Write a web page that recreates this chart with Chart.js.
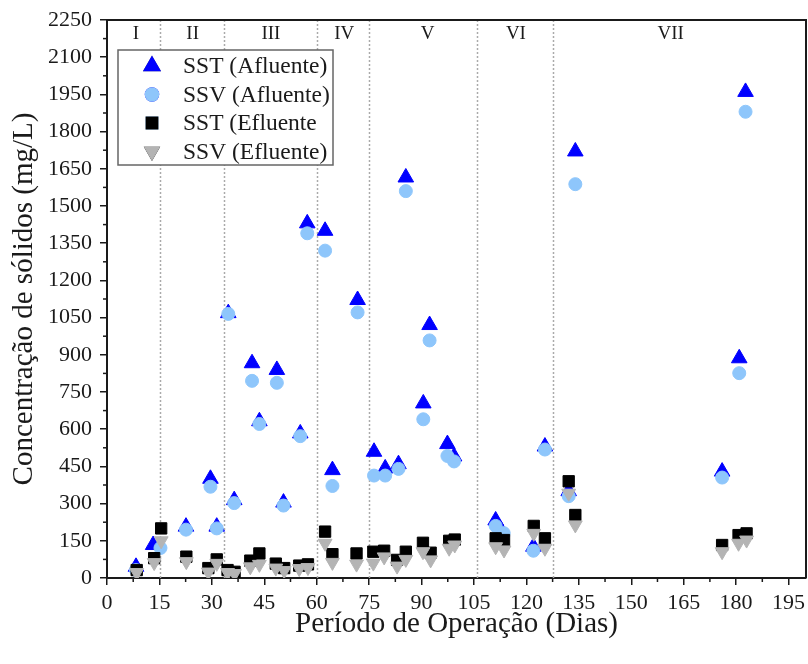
<!DOCTYPE html>
<html><head><meta charset="utf-8">
<script src="https://cdn.jsdelivr.net/npm/chart.js@4"></script>
<style>html,body{margin:0;padding:0;background:#fff;}#wrap{width:808px;height:664px;position:relative;}</style>
</head><body><div id="wrap"><canvas id="c" width="808" height="664"></canvas></div>
<script>
// ---- data ----
const sstAflDays = [8.3, 13.2, 22.6, 29.6, 31.4, 34.7, 36.4, 41.5, 43.6, 48.6, 50.5, 55.3, 57.3, 62.4, 64.5, 71.7, 76.4, 79.6, 83.4, 85.5, 90.5, 92.3, 97.4, 99.3, 111.2, 113, 122, 125.3, 132.1, 134, 176, 180.9, 182.7];
const sstAfl     = [45, 133, 207, 400, 207, 1068, 314, 866, 632, 839, 304, 583, 1430, 1400, 435, 1121, 509, 442, 459, 1615, 704, 1020, 540, 490, 232, 187, 126, 530, 350, 1720, 429, 886, 1960];
const ssvAflDays = [8.3, 15.3, 22.6, 29.6, 31.4, 34.7, 36.4, 41.5, 43.6, 48.6, 50.5, 55.3, 57.3, 62.4, 64.5, 71.7, 76.4, 79.6, 83.4, 85.5, 90.5, 92.3, 97.4, 99.3, 111.2, 113.5, 122, 125.3, 132.1, 134, 176, 180.9, 182.7];
const ssvAfl     = [32, 121, 195, 368, 200, 1065, 302, 795, 621, 787, 292, 572, 1390, 1320, 371, 1071, 413, 413, 440, 1560, 640, 958, 492, 470, 210, 181, 110, 518, 330, 1588, 405, 826, 1880];
const effDays    = [8.5, 13.5, 15.5, 22.7, 29, 31.4, 34.5, 36.5, 41, 43.6, 48.3, 50.7, 55, 57.5, 62.4, 64.5, 71.4, 76.2, 79.3, 83, 85.5, 90.4, 92.6, 97.9, 99.5, 111.2, 113.6, 122.1, 125.3, 132.1, 134, 176, 180.7, 183];
const sstEfl     = [32, 80, 200, 86, 40, 75, 32, 25, 70, 99, 58, 40, 50, 55, 187, 96, 99, 106, 110, 73, 106, 142, 102, 150, 155, 160, 153, 210, 160, 390, 254, 133, 173, 180];
const ssvEfl     = [22, 62, 150, 66, 24, 59, 22, 18, 45, 55, 40, 30, 38, 42, 140, 63, 56, 60, 85, 48, 75, 106, 73, 120, 133, 126, 113, 180, 120, 342, 214, 106, 140, 153];
const seriesNames = ['SST (Afluente)', 'SSV (Afluente)', 'SST (Efluente', 'SSV (Efluente)'];
const phaseBounds = [15.3, 33.5, 60, 75, 106, 127.5];
const phaseNames  = ['I', 'II', 'III', 'IV', 'V', 'VI', 'VII'];
const phaseLabelDays = [8.3, 24.5, 46.9, 67.9, 91.7, 117, 161.3];
const xTicks = [0, 15, 30, 45, 60, 75, 90, 105, 120, 135, 150, 165, 180, 195];
const yTicks = [0, 150, 300, 450, 600, 750, 900, 1050, 1200, 1350, 1500, 1650, 1800, 1950, 2100, 2250];

const zip = (xs, ys) => xs.map((x, i) => ({x, y: ys[i]}));
const SERIF = "'Liberation Serif', 'Times New Roman', serif";
const INK = '#1a1a1a';

const decor = {
  id: 'decor',
  beforeDatasetsDraw(chart) {
    const {ctx, chartArea: a, scales: {x}} = chart;
    ctx.save();
    ctx.strokeStyle = '#aaaaaa';
    ctx.lineWidth = 1.5;
    ctx.setLineDash([2, 2]);
    phaseBounds.forEach(d => {
      const px = Math.round(x.getPixelForValue(d)) + 0.5;
      ctx.beginPath(); ctx.moveTo(px, a.top); ctx.lineTo(px, a.bottom); ctx.stroke();
    });
    ctx.setLineDash([]);
    ctx.fillStyle = INK;
    ctx.font = '19px ' + SERIF;
    ctx.textAlign = 'center'; ctx.textBaseline = 'middle';
    phaseNames.forEach((t, i) => ctx.fillText(t, x.getPixelForValue(phaseLabelDays[i]), a.top + 14));
    ctx.restore();
  },
  afterDraw(chart) {
    const {ctx, chartArea: a, scales: {x, y}} = chart;
    ctx.save();
    ctx.strokeStyle = INK; ctx.lineWidth = 2;
    ctx.beginPath();
    ctx.moveTo(a.left, a.top); ctx.lineTo(a.right, a.top); ctx.lineTo(a.right, a.bottom);
    ctx.stroke();
    // minor ticks
    ctx.lineWidth = 1.5;
    for (let v = 7.5; v < 200; v += 15) {
      const px = x.getPixelForValue(v);
      ctx.beginPath(); ctx.moveTo(px, a.bottom); ctx.lineTo(px, a.bottom + 4); ctx.stroke();
    }
    for (let v = 75; v < 2250; v += 150) {
      const py = y.getPixelForValue(v);
      ctx.beginPath(); ctx.moveTo(a.left, py); ctx.lineTo(a.left - 4, py); ctx.stroke();
    }
    // legend
    const lx = 118, ly = 50, lw = 215, lh = 115;
    ctx.fillStyle = '#fff';
    ctx.fillRect(lx, ly, lw, lh);
    ctx.strokeStyle = '#666'; ctx.lineWidth = 1.5;
    ctx.strokeRect(lx, ly, lw, lh);
    const metas = [0, 1, 2, 3].map(i => chart.data.datasets[i]);
    ctx.font = '23.5px ' + SERIF;
    ctx.textAlign = 'left'; ctx.textBaseline = 'middle';
    metas.forEach((ds, i) => {
      const cy = ly + 16 + i * 28.5;
      Chart.helpers.drawPoint(ctx, {pointStyle: ds.pointStyle, rotation: ds.rotation || 0, radius: ds.pointRadius, borderWidth: 1}, 152, cy);
      ctx.fillStyle = ds.backgroundColor; ctx.strokeStyle = ds.borderColor;
      ctx.fill(); ctx.stroke();
      ctx.fillStyle = INK;
      ctx.fillText(seriesNames[i], 183, cy + 1);
    });
    ctx.restore();
  }
};

new Chart(document.getElementById('c'), {
  type: 'scatter',
  data: {
    datasets: [
      {label: seriesNames[0], data: zip(sstAflDays, sstAfl), pointStyle: 'triangle', pointRadius: 9, backgroundColor: '#0000ff', borderColor: '#0000ff', borderWidth: 1, order: 4},
      {label: seriesNames[1], data: zip(ssvAflDays, ssvAfl), pointStyle: 'circle', pointRadius: 6.5, backgroundColor: '#8ec6fb', borderColor: '#8ec6fb', borderWidth: 1, order: 3},
      {label: seriesNames[2], data: zip(effDays, sstEfl), pointStyle: 'rect', pointRadius: 8, backgroundColor: '#000000', borderColor: '#000000', borderWidth: 1, order: 2},
      {label: seriesNames[3], data: zip(effDays, ssvEfl), pointStyle: 'triangle', rotation: 180, pointRadius: 8, backgroundColor: '#b4b4b4', borderColor: '#b4b4b4', borderWidth: 1, order: 1}
    ]
  },
  options: {
    responsive: false, animation: false, devicePixelRatio: 1,
    layout: {autoPadding: false, padding: {top: 20, right: 2, left: 0, bottom: 0}},
    plugins: {legend: {display: false}, tooltip: {enabled: false}},
    scales: {
      x: {
        type: 'linear', min: 0, max: 200,
        afterBuildTicks: s => { s.ticks = xTicks.map(v => ({value: v})); },
        afterFit: s => { s.height = 86; s.paddingLeft = 0; s.paddingRight = 0; },
        ticks: {font: {family: SERIF, size: 22}, color: INK, padding: 5, maxRotation: 0, autoSkip: false, callback: v => String(v)},
        grid: {display: true, drawOnChartArea: false, drawTicks: true, tickLength: 7, color: INK, lineWidth: 1.5},
        border: {display: true, color: INK, width: 2},
        title: {display: true, text: 'Período de Operação (Dias)', font: {family: SERIF, size: 29}, color: INK, padding: {top: 0, bottom: 22}}
      },
      y: {
        type: 'linear', min: 0, max: 2250,
        afterBuildTicks: s => { s.ticks = yTicks.map(v => ({value: v})); },
        afterFit: s => { s.width = 107; s.paddingTop = 0; s.paddingBottom = 0; },
        ticks: {font: {family: SERIF, size: 22}, color: INK, padding: 8, autoSkip: false, callback: v => String(v)},
        grid: {display: true, drawOnChartArea: false, drawTicks: true, tickLength: 7, color: INK, lineWidth: 1.5},
        border: {display: true, color: INK, width: 2},
        title: {display: true, text: 'Concentração de sólidos (mg/L)', font: {family: SERIF, size: 29}, color: INK, padding: {top: 7, bottom: 0}}
      }
    }
  },
  plugins: [decor]
});
</script></body></html>
